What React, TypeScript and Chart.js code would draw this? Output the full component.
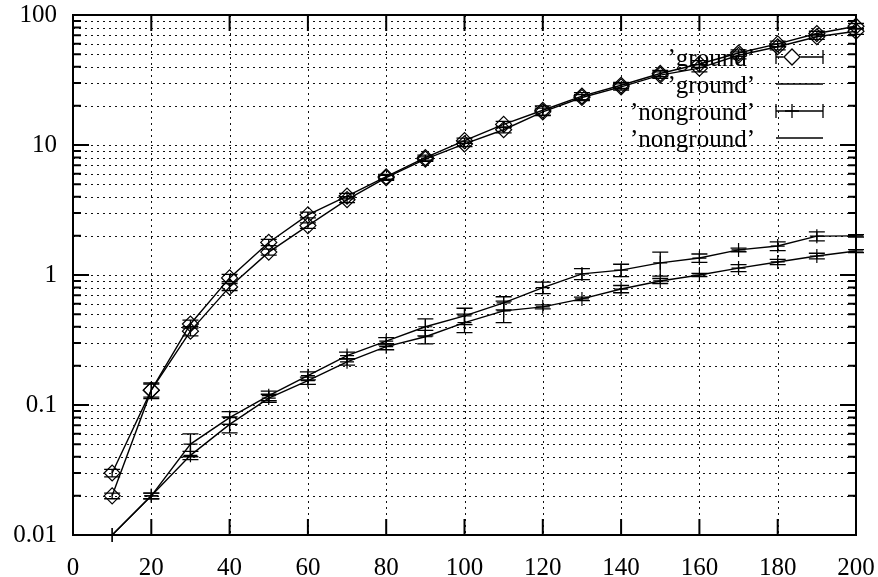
import React, { useEffect, useRef } from 'react';
import { Chart, registerables } from 'chart.js';

Chart.register(...registerables);

// ---- data ----
const xValues = [10, 20, 30, 40, 50, 60, 70, 80, 90, 100, 110, 120, 130, 140, 150, 160, 170, 180, 190, 200];

const groundA = [0.03, 0.13, 0.42, 0.95, 1.78, 2.9, 4.05, 5.7, 8.0, 10.8, 14.4, 18.5, 23.8, 28.8, 35.5, 42, 51, 60, 72, 82];
const groundAErr = [0.002, 0.018, 0.03, 0.06, 0.1, 0.15, 0.2, 0.25, 0.35, 0.5, 0.8, 1.5, 1.5, 1.5, 2, 2.5, 3, 3, 3, 4];
const groundB = [0.02, 0.13, 0.37, 0.81, 1.5, 2.4, 3.8, 5.6, 7.8, 10.2, 13.1, 18.0, 23.2, 28, 34.5, 39, 49, 57, 68, 75];
const groundBErr = [0.001, 0.015, 0.03, 0.05, 0.08, 0.12, 0.2, 0.25, 0.3, 0.5, 0.7, 1.2, 1.2, 1.5, 2, 2.5, 3, 3, 3, 4];

const nongroundA = [0.01, 0.02, 0.05, 0.08, 0.118, 0.168, 0.24, 0.31, 0.40, 0.485, 0.61, 0.80, 1.02, 1.09, 1.24, 1.35, 1.56, 1.67, 1.99, 2.0];
const nongroundAErr = [0, 0.001, 0.01, 0.009, 0.01, 0.012, 0.015, 0.02, 0.06, 0.07, 0.07, 0.08, 0.1, 0.12, 0.26, 0.1, 0.05, 0.13, 0.16, 0.04];
const nongroundB = [0.01, 0.02, 0.041, 0.071, 0.113, 0.154, 0.215, 0.281, 0.335, 0.43, 0.53, 0.569, 0.655, 0.78, 0.9, 1.0, 1.13, 1.26, 1.40, 1.53];
const nongroundBErr = [0, 0.001, 0.003, 0.01, 0.008, 0.01, 0.012, 0.015, 0.04, 0.07, 0.1, 0.02, 0.02, 0.05, 0.04, 0.03, 0.07, 0.06, 0.07, 0.04];

const xTicks = [0, 20, 40, 60, 80, 100, 120, 140, 160, 180, 200];
const yMajorTicks = [0.01, 0.1, 1, 10, 100];
const yTickLabels = ['0.01', '0.1', '1', '10', '100'];
const legendLabels = ['\u2019ground\u2019', '\u2019ground\u2019', '\u2019nonground\u2019', '\u2019nonground\u2019'];

const FONT_FAMILY = '"Liberation Serif", "DejaVu Serif", serif';

function drawDiamond(ctx: CanvasRenderingContext2D, x: number, y: number, r: number) {
  ctx.beginPath();
  ctx.moveTo(x - r, y);
  ctx.lineTo(x, y - r);
  ctx.lineTo(x + r, y);
  ctx.lineTo(x, y + r);
  ctx.closePath();
  ctx.stroke();
}

function drawPlus(ctx: CanvasRenderingContext2D, x: number, y: number, r: number) {
  ctx.beginPath();
  ctx.moveTo(x - r, y);
  ctx.lineTo(x + r, y);
  ctx.moveTo(x, y - r);
  ctx.lineTo(x, y + r);
  ctx.stroke();
}

const gnuplotPlugin = {
  id: 'gnuplotFrame',
  beforeDatasetsDraw(chart: any) {
    const { ctx, chartArea, scales } = chart;
    const xs = scales.x;
    const ys = scales.y;
    ctx.save();
    ctx.strokeStyle = '#111';
    ctx.lineWidth = 1;
    ctx.setLineDash([2, 4]);
    ctx.beginPath();
    xTicks.forEach((v) => {
      if (v === xs.min || v === xs.max) return;
      const px = Math.round(xs.getPixelForValue(v)) + 0.5;
      ctx.moveTo(px, chartArea.top);
      ctx.lineTo(px, chartArea.bottom);
    });
    yMajorTicks.forEach((d, di) => {
      for (let m = 1; m <= 9; m++) {
        if (di === yMajorTicks.length - 1 && m > 1) break;
        const v = d * m;
        if (v <= ys.min || v >= ys.max) continue;
        const py = Math.round(ys.getPixelForValue(v)) + 0.5;
        ctx.moveTo(chartArea.left, py);
        ctx.lineTo(chartArea.right, py);
      }
    });
    ctx.stroke();
    ctx.restore();
  },
  afterDatasetsDraw(chart: any) {
    const { ctx, chartArea, scales } = chart;
    const xs = scales.x;
    const ys = scales.y;
    ctx.save();
    // error bars
    ctx.strokeStyle = '#000';
    ctx.lineWidth = 1.3;
    ctx.setLineDash([]);
    chart.data.datasets.forEach((ds: any) => {
      const errs: number[] = ds.errors || [];
      ds.data.forEach((p: any, i: number) => {
        const e = errs[i];
        if (!e) return;
        const px = xs.getPixelForValue(p.x);
        const yLo = ys.getPixelForValue(Math.max(p.y - e, 1e-6));
        const yHi = ys.getPixelForValue(p.y + e);
        ctx.beginPath();
        ctx.moveTo(px, yLo);
        ctx.lineTo(px, yHi);
        ctx.moveTo(px - 8, yLo);
        ctx.lineTo(px + 8, yLo);
        ctx.moveTo(px - 8, yHi);
        ctx.lineTo(px + 8, yHi);
        ctx.stroke();
      });
    });

    // tick marks (inward, mirrored)
    ctx.lineWidth = 2;
    ctx.beginPath();
    const major = 16;
    const minor = 8;
    xTicks.forEach((v) => {
      const px = xs.getPixelForValue(v);
      ctx.moveTo(px, chartArea.bottom);
      ctx.lineTo(px, chartArea.bottom - major);
      ctx.moveTo(px, chartArea.top);
      ctx.lineTo(px, chartArea.top + major);
    });
    yMajorTicks.forEach((d, di) => {
      for (let m = 1; m <= 9; m++) {
        if (di === yMajorTicks.length - 1 && m > 1) break;
        const v = d * m;
        const py = ys.getPixelForValue(v);
        const len = m === 1 ? major : minor;
        ctx.moveTo(chartArea.left, py);
        ctx.lineTo(chartArea.left + len, py);
        ctx.moveTo(chartArea.right, py);
        ctx.lineTo(chartArea.right - len, py);
      }
    });
    ctx.stroke();

    // border
    ctx.lineWidth = 2;
    ctx.strokeRect(chartArea.left, chartArea.top, chartArea.right - chartArea.left, chartArea.bottom - chartArea.top);

    // legend (gnuplot key style)
    const rows = [57, 84, 111, 138];
    const textRight = 755;
    const sampleL = 776;
    const sampleR = 823;
    const markerX = 792;
    ctx.font = '25px ' + FONT_FAMILY;
    ctx.fillStyle = '#000';
    ctx.textAlign = 'right';
    ctx.textBaseline = 'middle';
    ctx.lineWidth = 1.3;
    legendLabels.forEach((label, i) => {
      const y = rows[i];
      ctx.fillText(label, textRight, y + 2);
      ctx.beginPath();
      ctx.moveTo(sampleL, y);
      ctx.lineTo(sampleR, y);
      if (i === 0 || i === 2) {
        ctx.moveTo(sampleL, y - 7);
        ctx.lineTo(sampleL, y + 7);
        ctx.moveTo(sampleR, y - 7);
        ctx.lineTo(sampleR, y + 7);
      }
      ctx.stroke();
      if (i === 0) {
        ctx.fillStyle = '#fff';
        ctx.beginPath();
        ctx.moveTo(markerX - 9, y);
        ctx.lineTo(markerX, y - 8);
        ctx.lineTo(markerX + 9, y);
        ctx.lineTo(markerX, y + 8);
        ctx.closePath();
        ctx.fill();
        ctx.fillStyle = '#000';
        drawDiamond(ctx, markerX, y, 8);
      }
      if (i === 2) {
        drawPlus(ctx, markerX, y, 7);
      }
    });
    ctx.restore();
  },
};

function makeDataset(values: number[], errors: number[], style: string, radius: number) {
  return {
    data: xValues.map((x, i) => ({ x, y: values[i] })),
    errors,
    borderColor: '#000',
    borderWidth: 1.4,
    pointStyle: style,
    pointRadius: radius,
    pointHoverRadius: radius,
    pointBorderColor: '#000',
    pointBackgroundColor: 'rgba(0,0,0,0)',
    pointBorderWidth: 1.2,
    tension: 0,
    fill: false,
    clip: false,
  };
}

export default function App() {
  const canvasRef = useRef<HTMLCanvasElement | null>(null);

  useEffect(() => {
    const canvas = canvasRef.current;
    if (!canvas) return;
    const chart = new Chart(canvas, {
      type: 'line',
      data: {
        datasets: [
          makeDataset(groundA, groundAErr, 'rectRot', 8),
          makeDataset(groundB, groundBErr, 'rectRot', 8),
          makeDataset(nongroundA, nongroundAErr, 'cross', 7),
          makeDataset(nongroundB, nongroundBErr, 'cross', 7),
        ] as any,
      },
      options: {
        responsive: false,
        animation: false,
        devicePixelRatio: 1,
        layout: { padding: { top: 15, right: 22, left: 0, bottom: 0 } },
        plugins: {
          legend: { display: false },
          tooltip: { enabled: false },
        },
        scales: {
          x: {
            type: 'linear',
            min: 0,
            max: 200,
            afterBuildTicks: (s: any) => {
              s.ticks = xTicks.map((v) => ({ value: v }));
            },
            ticks: {
              color: '#000',
              font: { family: FONT_FAMILY, size: 25 },
              padding: 18,
              maxRotation: 0,
              autoSkip: false,
            },
            grid: { display: false, drawTicks: false },
            border: { display: false },
            afterFit: (s: any) => {
              s.height = 42;
              s.paddingLeft = 0;
              s.paddingRight = 0;
            },
          },
          y: {
            type: 'logarithmic',
            min: 0.01,
            max: 100,
            afterBuildTicks: (s: any) => {
              s.ticks = yMajorTicks.map((v) => ({ value: v }));
            },
            ticks: {
              color: '#000',
              font: { family: FONT_FAMILY, size: 25 },
              padding: 16,
              autoSkip: false,
              callback: (_v: any, i: number) => yTickLabels[i],
            },
            grid: { display: false, drawTicks: false },
            border: { display: false },
            afterFit: (s: any) => {
              s.width = 73;
              s.paddingTop = 0;
              s.paddingBottom = 0;
            },
          },
        },
      } as any,
      plugins: [gnuplotPlugin],
    });
    return () => chart.destroy();
  }, []);

  return (
    <div style={{ position: 'absolute', left: 0, top: 0, width: 878, height: 577, background: '#fff' }}>
      <canvas ref={canvasRef} width={878} height={577} style={{ display: 'block' }} />
    </div>
  );
}
